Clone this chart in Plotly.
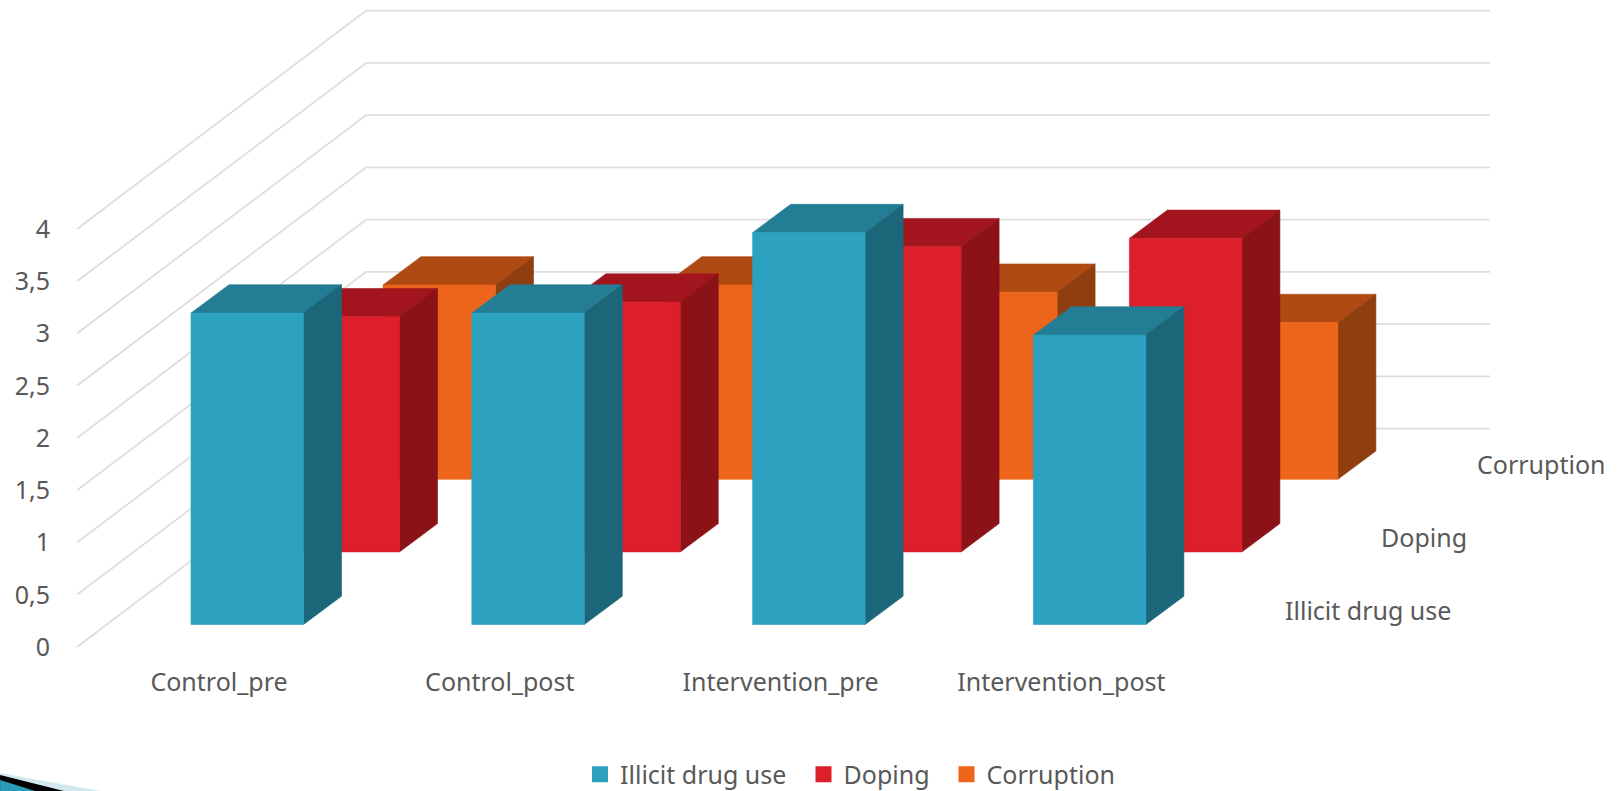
import plotly.graph_objects as go

# ---------- data ----------
categories = ["Control_pre", "Control_post", "Intervention_pre", "Intervention_post"]
illicit_drug_use = [2.98, 2.98, 3.75, 2.77]
doping = [2.25, 2.39, 2.92, 3.00]
corruption = [1.86, 1.86, 1.79, 1.50]
series_names = ["Illicit drug use", "Doping", "Corruption"]
y_ticks = [0, 0.5, 1, 1.5, 2, 2.5, 3, 3.5, 4]
y_tick_labels = ["0", "0,5", "1", "1,5", "2", "2,5", "3", "3,5", "4"]

# ---------- look ----------
W, H = 1619, 791
PX_X, PX_Y = 280.8, 104.5      # pixels per category / per value unit
ML, MB = 77, 131
PLOT_H = H - MB
X_MAX = (W - ML) / PX_X
Y_MIN = -13 / PX_Y
Y_MAX = Y_MIN + PLOT_H / PX_Y
TXT = "#595959"
FONT = "Noto Sans"
FS = 25
GRID = "#DEDEDE"
colors = {
    "Illicit drug use": ("#2CA1C0", "#1C6679", "#237D94"),
    "Doping": ("#DC1F2A", "#8B1317", "#A3151E"),
    "Corruption": ("#EC651B", "#8F3F0F", "#B04A13"),
}
values = {"Illicit drug use": illicit_drug_use, "Doping": doping, "Corruption": corruption}

BAR_LEFT, BAR_W = 114 / PX_X, 112.5 / PX_X
BASE = 22.5 / PX_Y
DEPTH_DX, DEPTH_DY = 38 / PX_X, 28.3 / PX_Y
STEP_DX, STEP_DY = 96 / PX_X, 72.6 / PX_Y
WALL_DX, WALL_DY = 289 / PX_X, 218.3 / PX_Y
GRID_END = (1490 - ML) / PX_X

fig = go.Figure()

# gridlines on the floor/left wall and back wall
for v in y_ticks:
    fig.add_trace(go.Scatter(
        x=[0, WALL_DX, GRID_END], y=[v, v + WALL_DY, v + WALL_DY],
        mode="lines", line=dict(color=GRID, width=1.8), showlegend=False, hoverinfo="skip"))


def poly(pts_list):
    xs, ys = [], []
    for pts in pts_list:
        for px_, py_ in pts:
            xs.append(px_)
            ys.append(py_)
        xs.append(pts[0][0])
        ys.append(pts[0][1])
        xs.append(None)
        ys.append(None)
    return xs, ys


# back series first
for depth in (2, 1, 0):
    name = series_names[depth]
    front, side, top = [], [], []
    for i, v in enumerate(values[name]):
        x0 = i + BAR_LEFT + depth * STEP_DX
        x1 = x0 + BAR_W
        y0 = BASE + depth * STEP_DY
        y1 = y0 + v
        front.append([(x0, y0), (x1, y0), (x1, y1), (x0, y1)])
        side.append([(x1, y0), (x1 + DEPTH_DX, y0 + DEPTH_DY), (x1 + DEPTH_DX, y1 + DEPTH_DY), (x1, y1)])
        top.append([(x0, y1), (x1, y1), (x1 + DEPTH_DX, y1 + DEPTH_DY), (x0 + DEPTH_DX, y1 + DEPTH_DY)])
    for pts, col in zip((top, side, front), (colors[name][2], colors[name][1], colors[name][0])):
        xs, ys = poly(pts)
        fig.add_trace(go.Scatter(x=xs, y=ys, mode="lines", fill="toself", fillcolor=col,
                                 line=dict(color=col, width=0.6), showlegend=False, hoverinfo="skip"))

# legend entries, one small legend per series so the gaps can follow the reference
legend_ids = ["legend", "legend2", "legend3"]
legend_left = [580.0, 803.5, 946.5]
for name, lid in zip(series_names, legend_ids):
    fig.add_trace(go.Scatter(x=[None], y=[None], mode="markers", name=name, legend=lid,
                             marker=dict(symbol="square", size=17, color=colors[name][0])))

# depth-axis labels
for depth, name in enumerate(series_names):
    fig.add_annotation(x=(1282.5 - ML) / PX_X + depth * STEP_DX,
                       y=(648.5 - 611) / PX_Y + depth * STEP_DY,
                       text=name, showarrow=False, xanchor="left", yanchor="middle",
                       font=dict(family=FONT, size=FS, color=TXT))


# template corner at the bottom-left of the slide
def pxp(x, y):
    return (x - ML) / (W - ML), (PLOT_H - y) / PLOT_H


def path(pts):
    return "M " + " L ".join(f"{a:.4f},{b:.4f}" for a, b in (pxp(*p) for p in pts)) + " Z"


for pts, col in (
    ([(0, 773), (100, 791), (0, 791)], "#D3E7F0"),
    ([(0, 775), (64, 791), (0, 791)], "#000000"),
    ([(0, 780), (35, 791), (0, 791)], "#2A9CBB"),
):
    fig.add_shape(type="path", path=path(pts), xref="paper", yref="paper",
                  fillcolor=col, line=dict(width=0), layer="below")

legends = {}
for lid, left in zip(legend_ids, legend_left):
    legends[lid] = dict(orientation="h", xref="paper", yref="paper",
                        x=(left - ML) / (W - ML), xanchor="left",
                        y=-(774.5 - PLOT_H) / PLOT_H, yanchor="middle",
                        font=dict(family=FONT, size=FS, color=TXT), bgcolor="rgba(0,0,0,0)",
                        itemclick=False, itemdoubleclick=False)

fig.update_layout(
    width=W, height=H, autosize=False,
    margin=dict(l=ML, r=0, t=0, b=MB, pad=0, autoexpand=False),
    paper_bgcolor="white", plot_bgcolor="white",
    font=dict(family=FONT, size=FS, color=TXT),
    hovermode=False,
    xaxis=dict(range=[0, X_MAX], showgrid=False, zeroline=False, showline=False, ticks="",
               tickmode="array", tickvals=[i + 142 / PX_X for i in range(4)], ticktext=categories,
               tickangle=0, ticklabelstandoff=5, tickfont=dict(family=FONT, size=FS, color=TXT),
               automargin=False, fixedrange=True),
    yaxis=dict(range=[Y_MIN, Y_MAX], showgrid=False, zeroline=False, showline=False, ticks="",
               tickmode="array", tickvals=y_ticks, ticktext=y_tick_labels,
               ticklabelstandoff=26, tickfont=dict(family=FONT, size=FS, color=TXT),
               automargin=False, fixedrange=True),
    showlegend=True,
    **legends,
)

fig.write_html("out.html", config={"displayModeBar": False},
               post_script="document.body.style.margin='0';")
